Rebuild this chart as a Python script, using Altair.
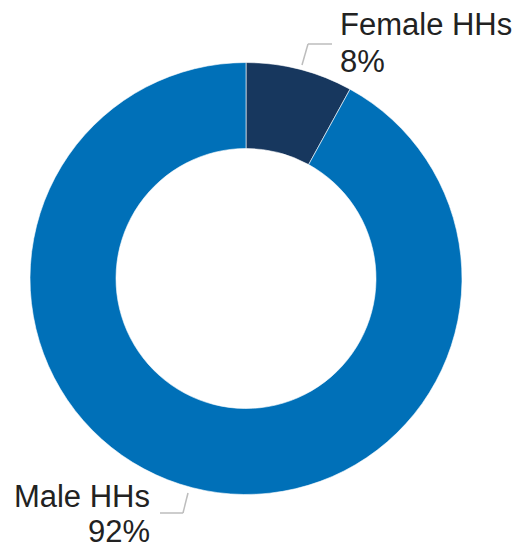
import altair as alt
import pandas as pd

categories = ["Female HHs", "Male HHs"]
shares = [8, 92]
colors = ["#17375e", "#0070b8"]

df = pd.DataFrame({"category": categories, "share": shares, "order": [0, 1]})

W, H = 504, 540
CX, CY = 238, 270.5
FONT = "Liberation Sans"
TXT = "#222222"
LEAD = "#bdbdbd"

base = alt.Chart(df)

arc = base.mark_arc(outerRadius=216, innerRadius=130, stroke="#ffffff", strokeWidth=0.6).encode(
    theta=alt.Theta("share:Q", stack=True),
    color=alt.Color("category:N", scale=alt.Scale(domain=categories, range=colors), legend=None),
    order=alt.Order("order:Q"),
    x=alt.value(CX),
    y=alt.value(CY),
)

label_expr = "[datum.category, datum.share + '%']"

female_txt = base.transform_filter(alt.datum.category == "Female HHs").transform_calculate(
    label=label_expr
).mark_text(align="left", baseline="alphabetic", font=FONT, fontSize=31, color=TXT, lineHeight=37).encode(
    text="label:N", x=alt.value(332), y=alt.value(27)
)

male_txt = base.transform_filter(alt.datum.category == "Male HHs").transform_calculate(
    label=label_expr
).mark_text(align="right", baseline="alphabetic", font=FONT, fontSize=31, color=TXT, lineHeight=35).encode(
    text="label:N", x=alt.value(142), y=alt.value(499)
)

one = alt.Chart(pd.DataFrame({"k": [0]}))

def seg(x1, y1, x2, y2):
    return one.mark_rule(color=LEAD, strokeWidth=1.5).encode(
        x=alt.value(x1), y=alt.value(y1), x2=alt.value(x2), y2=alt.value(y2)
    )

leaders = [
    seg(294, 57, 300, 36), seg(300, 36, 324, 36),
    seg(152, 505, 175, 505), seg(175, 505, 180, 485),
]

chart = alt.layer(arc, female_txt, male_txt, *leaders).properties(
    width=W, height=H, autosize=alt.AutoSizeParams(type="none"), padding=0
).configure_view(stroke=None)

chart.save("out.html", embed_options={"renderer": "svg", "actions": False})
